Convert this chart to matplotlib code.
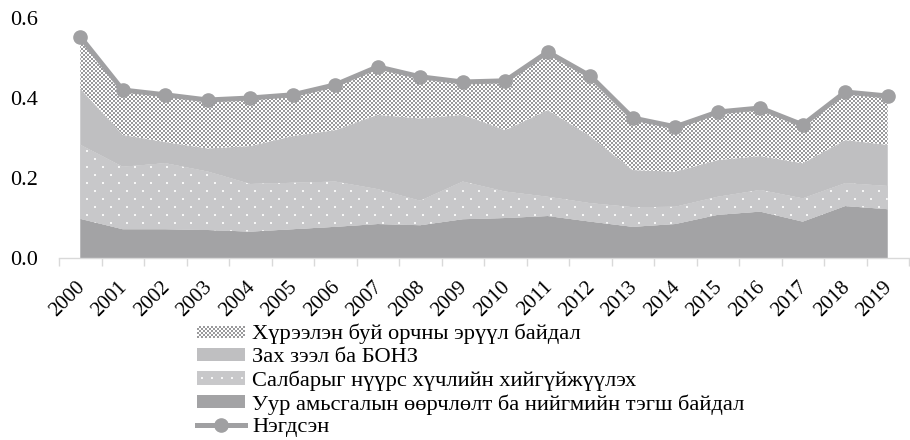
import numpy as np
import matplotlib
matplotlib.use("Agg")
import matplotlib.pyplot as plt
from matplotlib.colors import ListedColormap, to_rgb
from matplotlib.patches import Patch, Rectangle
from matplotlib.lines import Line2D
from matplotlib.legend_handler import HandlerBase
from matplotlib.transforms import ScaledTranslation

plt.rcParams['font.family'] = ['Liberation Serif', 'DejaVu Serif']

years = [str(y) for y in range(2000, 2020)]

# component values (stacked from bottom)
climate = [0.098, 0.072, 0.072, 0.070, 0.066, 0.072, 0.078, 0.085, 0.082, 0.097,
           0.100, 0.105, 0.091, 0.078, 0.085, 0.108, 0.116, 0.091, 0.130, 0.122]
coal = [0.185, 0.156, 0.165, 0.146, 0.119, 0.116, 0.113, 0.087, 0.061, 0.094,
        0.066, 0.048, 0.046, 0.049, 0.043, 0.045, 0.054, 0.058, 0.057, 0.058]
market = [0.141, 0.080, 0.053, 0.058, 0.095, 0.117, 0.129, 0.186, 0.206, 0.167,
          0.154, 0.217, 0.168, 0.093, 0.088, 0.092, 0.085, 0.088, 0.108, 0.103]
environment = [0.129, 0.112, 0.118, 0.121, 0.120, 0.103, 0.113, 0.120, 0.104, 0.082,
               0.123, 0.145, 0.150, 0.130, 0.112, 0.120, 0.120, 0.096, 0.120, 0.122]
total = [0.553, 0.420, 0.408, 0.395, 0.400, 0.408, 0.433, 0.478, 0.453, 0.440,
         0.443, 0.515, 0.455, 0.350, 0.328, 0.365, 0.375, 0.333, 0.415, 0.405]

labels = ["Хүрээлэн буй орчны эрүүл байдал",
          "Зах зээл ба БОНЗ",
          "Салбарыг нүүрс хүчлийн хийгүйжүүлэх",
          "Уур амьсгалын өөрчлөлт ба нийгмийн тэгш байдал",
          "Нэгдсэн"]

C_DARK = '#a3a3a5'
C_DOT = '#c8c8ca'
C_DOTMARK = '#f6f6f6'
C_LIGHT = '#bfbfc1'
C_CHECK = '#9a9a9c'
C_LINE = '#a0a0a2'

W, H = 910, 440
fig = plt.figure(figsize=(W / 100, H / 100), dpi=100)
ax_l, ax_r, ax_b, ax_t = 59, 909, 182, 422
ax = fig.add_axes([ax_l / W, ax_b / H, (ax_r - ax_l) / W, (ax_t - ax_b) / H])

x = np.arange(len(years))
c1 = np.array(climate)
c2 = c1 + np.array(coal)
c3 = c2 + np.array(market)
c4 = c3 + np.array(environment)

ax.fill_between(x, 0, c1, facecolor=C_DARK, linewidth=0, zorder=2)
poly_dot = ax.fill_between(x, c1, c2, facecolor=C_DOT, linewidth=0, zorder=2)
ax.fill_between(x, c2, c3, facecolor=C_LIGHT, linewidth=0, zorder=2)
poly_chk = ax.fill_between(x, c3, c4, facecolor='white', linewidth=0, zorder=2)

pw, ph = ax_r - ax_l, ax_t - ax_b
extent = (-0.5, 19.5, 0, 0.6)

# dotted texture for the second layer (pixel level)
dot_img = np.ones((ph, pw, 3)) * np.array(to_rgb(C_DOT))
for k in range(2, ph, 8):
    off = 0 if (k // 8) % 2 == 0 else 8
    for c in range(3 + off, pw, 16):
        dot_img[k:k + 2, c:c + 2] = to_rgb(C_DOTMARK)
im1 = ax.imshow(dot_img, extent=extent, aspect='auto', interpolation='nearest',
                origin='lower', zorder=2.5)
im1.set_clip_path(poly_dot.get_paths()[0], transform=ax.transData)

# checker texture for the top layer
checker = np.add.outer(np.arange(ph // 2), np.arange(pw // 2)) % 2
im2 = ax.imshow(checker, extent=extent, cmap=ListedColormap(['white', C_CHECK]),
                aspect='auto', interpolation='nearest', origin='lower', zorder=2.5)
im2.set_clip_path(poly_chk.get_paths()[0], transform=ax.transData)

ax.plot(x, total, color=C_LINE, linewidth=3.6, marker='o', markersize=9.5, zorder=4)

ax.set_xlim(-0.5, len(years) - 0.5)
ax.set_ylim(0, 0.6)
ax.set_yticks([0, 0.2, 0.4, 0.6])
ax.set_yticklabels(['0.0', '0.2', '0.4', '0.6'])
ax.set_xticks(x)
ax.set_xticklabels(years, rotation=45, ha='right', va='center', rotation_mode='anchor')
ax.set_xticks(np.arange(-0.5, len(years)), minor=True)
ax.tick_params(axis='x', which='major', length=0, pad=19, labelsize=15)
ax.tick_params(axis='x', which='minor', length=6, color='#d9d9d9', width=1)
ax.tick_params(axis='y', length=0, pad=15, labelsize=16)
shift = ScaledTranslation(2 / 100, 0, fig.dpi_scale_trans)
for lab in ax.get_xticklabels():
    lab.set_transform(lab.get_transform() + shift)
for s in ['top', 'right', 'left']:
    ax.spines[s].set_visible(False)
ax.spines['bottom'].set_color('#d9d9d9')
ax.spines['bottom'].set_linewidth(1)
ax.spines['bottom'].set_zorder(5)


class HandlerChecker(HandlerBase):
    def create_artists(self, legend, orig_handle, xdescent, ydescent, width, height, fontsize, trans):
        arts = [Rectangle((-xdescent, -ydescent), width, height, facecolor='white',
                          edgecolor='none', transform=trans)]
        s = 1.44
        ncol = int(width / s)
        nrow = int(height / s)
        for i in range(nrow):
            for j in range(ncol):
                if (i + j) % 2 == 0:
                    arts.append(Rectangle((-xdescent + j * s, -ydescent + i * s), s, s,
                                          facecolor=C_CHECK, edgecolor='none', transform=trans))
        return arts


class HandlerDots(HandlerBase):
    def create_artists(self, legend, orig_handle, xdescent, ydescent, width, height, fontsize, trans):
        arts = [Rectangle((-xdescent, -ydescent), width, height, facecolor=C_DOT,
                          edgecolor='none', transform=trans)]
        s = 1.44
        step = 7.2
        xx = -xdescent + 3.0
        while xx < width - xdescent - s:
            arts.append(Rectangle((xx, -ydescent + height / 2 - s / 2), s, s,
                                  facecolor=C_DOTMARK, edgecolor='none', transform=trans))
            xx += step
        return arts


h_env = Patch(facecolor=C_CHECK)
h_market = Patch(facecolor=C_LIGHT, linewidth=0)
h_coal = Patch(facecolor=C_DOT, linewidth=0)
h_clim = Patch(facecolor=C_DARK, linewidth=0)
h_tot = Line2D([], [], color=C_LINE, linewidth=3.6, marker='o', markersize=9.5)

fig.legend([h_env, h_market, h_coal, h_clim, h_tot], labels,
           handler_map={h_env: HandlerChecker(), h_coal: HandlerDots()},
           loc='upper left', bbox_to_anchor=(197 / W, 1 - 324 / H),
           frameon=False, borderpad=0, borderaxespad=0, fontsize=16.2,
           handlelength=2.14, handleheight=0.54, handletextpad=0.3,
           labelspacing=0.14, numpoints=1)

fig.savefig('out.png', dpi=100)
